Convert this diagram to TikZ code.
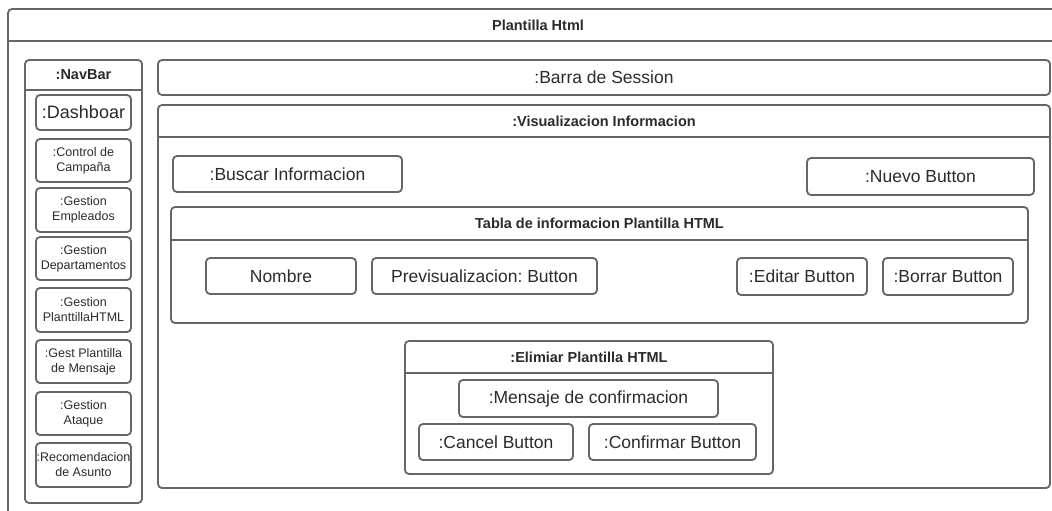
\documentclass[tikz,border=0pt]{standalone}
\usepackage{fontspec}
\setmainfont{Liberation Sans}
\frenchspacing
\definecolor{edge}{HTML}{666666}
\definecolor{ink}{HTML}{2B2B2B}
% a box given by its corners: name, x1, y1, x2, y2, style, text
\newcommand\uibox[7]{%
  \node[#6, minimum width={(#4-#2)*1pt}, minimum height={(#5-#3)*1pt}]
    (#1) at ({(#2+#4)/2},{(#3+#5)/2}) {#7};}
\begin{document}
\begin{tikzpicture}[x=1pt,y=-1pt,
  frame/.style={draw=edge, line width=1.8pt, rounded corners=4pt},
  wb/.style={frame, fill=white, inner sep=0pt, text=ink, align=center,
    font=\fontsize{17.5}{20}\selectfont},
  navitem/.style={wb, font=\fontsize{12.5}{15}\selectfont},
  big/.style={wb, font=\fontsize{18}{20}\selectfont},
  cont/.style={frame, inner sep=0pt},
  hdr/.style={text=ink, inner sep=0pt, font=\bfseries\fontsize{14.5}{17}\selectfont},
  divider/.style={draw=edge, line width=1.8pt}]
\useasboundingbox (0,0) rectangle (1052,511);
\fill[white] (0,0) rectangle (1052,511);
\clip (0,0) rectangle (1052,511);

% page frame (runs past the right and bottom edges)
\uibox{page}{8}{9}{1068}{540}{cont}{}
\draw[divider] (page.west |- 0,41) -- (page.east |- 0,41);
\node[hdr] (pagetitle) at (page.north |- 0,25) {Plantilla Html};

% navigation bar
\uibox{nav}{25}{60}{142}{503}{cont}{}
\draw[divider] (nav.west |- 0,90) -- (nav.east |- 0,90);
\node[hdr] (navtitle) at (nav.north |- 0,75) {:NavBar};
\uibox{dash}{36}{95}{131}{130}{big}{:Dashboar}
\uibox{camp}{36}{139}{131}{182}{navitem}{:Control de\\Campaña}
\uibox{empl}{36}{188}{131}{232}{navitem}{:Gestion\\Empleados}
\uibox{dept}{36}{237}{131}{280}{navitem}{:Gestion\\Departamentos}
\uibox{tmpl}{36}{288}{131}{332}{navitem}{:Gestion\\PlanttillaHTML}
\uibox{mens}{36}{340}{131}{383}{navitem}{:Gest Plantilla\\de Mensaje}
\uibox{atq}{36}{392}{131}{435}{navitem}{:Gestion\\Ataque}
\uibox{reco}{36}{443}{131}{487}{navitem}{:Recomendacion\\de Asunto}

% session bar
\uibox{session}{158}{60}{1050}{95}{wb}{:Barra de Session}

% information view
\uibox{view}{158}{105}{1050}{488}{cont}{}
\draw[divider] (view.west |- 0,137) -- (view.east |- 0,137);
\node[hdr] (viewtitle) at (view.north |- 0,121) {:Visualizacion Informacion};
\uibox{search}{173}{156}{402}{192}{wb}{:Buscar Informacion}
\uibox{newbtn}{807}{158}{1034}{195}{wb}{:Nuevo Button}

% table
\uibox{table}{171}{207}{1028}{323}{cont}{}
\draw[divider] (table.west |- 0,240) -- (table.east |- 0,240);
\node[hdr] (tabletitle) at (table.north |- 0,223.5) {Tabla de informacion Plantilla HTML};
\uibox{name}{206}{258}{356}{294}{wb}{Nombre}
\uibox{preview}{372}{258}{597}{294}{wb}{Previsualizacion: Button}
\uibox{edit}{737}{258}{867}{295}{wb}{:Editar Button}
\uibox{del}{883}{258}{1013}{295}{wb}{:Borrar Button}

% delete dialog
\uibox{dialog}{405}{341}{773}{474}{cont}{}
\draw[divider] (dialog.west |- 0,373) -- (dialog.east |- 0,373);
\node[hdr] (dialogtitle) at (dialog.north |- 0,357) {:Elimiar Plantilla HTML};
\uibox{msg}{459}{380}{718}{417}{wb}{:Mensaje de confirmacion}
\uibox{cancel}{419}{424}{573}{460}{wb}{:Cancel Button}
\uibox{confirm}{589}{424}{756}{460}{wb}{:Confirmar Button}
\end{tikzpicture}
\end{document}
